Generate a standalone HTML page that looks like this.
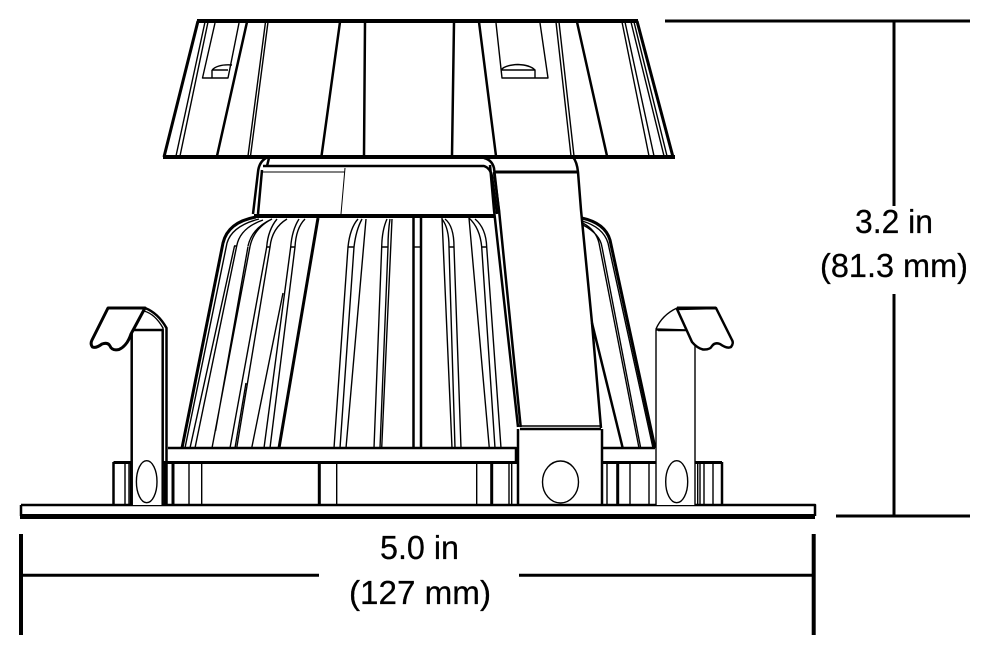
<!DOCTYPE html>
<html><head><meta charset="utf-8"><style>
html,body{margin:0;padding:0;background:#fff;width:990px;height:654px;overflow:hidden}
svg{display:block}
.k{stroke:#000;fill:none;stroke-linejoin:round;stroke-linecap:butt}
.t0{stroke-width:1}.t1{stroke-width:1.4}.t2{stroke-width:2.5}.t3{stroke-width:3}.t4{stroke-width:4}
.w{fill:#fff}
text{font-family:"Liberation Sans",sans-serif;font-size:33px;fill:#000;stroke:#000;stroke-width:.25}
</style></head><body>
<svg width="990" height="654" viewBox="0 0 990 654" xmlns="http://www.w3.org/2000/svg">
<!-- shade -->
<path class="k t3" d="M198 21L164 157"/>
<path class="k t3" d="M637 21L673 157"/>
<path class="k t4" d="M197 21H638M163 157H675"/>
<path class="k t1" d="M205 22L176 156M208 22L180 156M265.500 22L248 156M268 22L250.500 156M556 22L571 156M559 22L574 156M622 22L649 156M625 22L654 156M631 22L664 156M634 22L667 156"/>
<path class="k t2" d="M247 22L217 156M340 22L321.500 156M365 22L364 156M454 22L452 156M479 22L496 156M577 22L607 156"/>
<path class="k t1" d="M215 23L202.500 78H228L239 23M496 23L502 78H548L540 23"/>
<path class="k t1" d="M212 70H228M212 70V78M212 70Q218 64 232 65M501 70H535V78M501 70Q505 65 518 64.500Q530 65 535 70"/>
<!-- collar -->
<path class="k t2" d="M266 158Q259 162 258 172L253 214M269 158L267 166M262 170L258 214"/>
<path class="k t2" d="M263 166H484Q490 168 492 176L497 214"/>
<path class="k t0" d="M263 172H345M345 168L341 214"/>
<path class="k t2" d="M484 158Q492 160 494 168L499 212"/>
<path class="k t4" d="M254 216H494"/>
<!-- strap -->
<path class="k t2" d="M573 157Q577 162 578 172L581 210L592 323L601 428"/>
<path class="k t3" d="M495 172H577"/>
<path class="k t2" d="M490 165L494 210L518 427M494 172L499 210L520.700 427"/>
<path class="k t1" d="M518 426H601"/>
<path class="k t2" d="M520 429H601"/>
<!-- dome left -->
<path class="k t3" d="M256 217Q228 222 223 243L182 448"/>
<path class="k t1" d="M259 219Q232 226 227 243L185 448"/>
<path class="k t1" d="M263 220Q240 228 236.700 246L195 448M234.500 246L190 448M234 246H237"/>
<path class="k t1" d="M272 219Q254 228 250 246.500L212 448M248 246.500L215.500 431M272 219Q252 228 248 246"/>
<path class="k t1" d="M287 219Q272 228 270 247L236.700 448M266.700 247L230 448M266.700 247H270M277 219Q268 230 266.700 247"/>
<path class="k t1" d="M305 219Q296 228 295 247L270 448M290.700 247L264 448M290.700 247H295M299 219Q292 230 290.700 247M283 293L251.700 448"/>
<path class="k t3" d="M318 218L279 448"/>
<path class="k t1" d="M246 383L235 448"/>
<!-- dome centre -->
<path class="k t1" d="M366 219L346 448M358 219Q350 228 348 247L334 448M354 247L340 448M348 247H354M362 219Q356 230 354 247"/>
<path class="k t1" d="M392 219L381.700 448M387 219Q382 230 381.700 247L374 448M388 247L380 448M381.700 247H388M390 219Q388 232 388 247"/>
<path class="k t2" d="M413.500 218V448M421 218V448"/>
<path class="k t1" d="M414 247H421"/>
<path class="k t1" d="M442 218L452 448M445 219Q454 226 454 247L461 448M449 247L455 448M449 247H454M442 219Q449 228 449 247"/>
<path class="k t1" d="M469 218L489.300 448M475 219Q486 228 486.700 247L501 448M481.700 247L495 448M481.700 247H486.700M469 218Q480 228 481.700 247"/>
<!-- dome right -->
<path class="k t3" d="M581.700 218Q605 223 610 240L655 448"/>
<path class="k t1" d="M582 221Q603 227 608 243L653 448"/>
<path class="k t1" d="M582.700 223Q596 230 599 243L639 448M583 225Q600 234 602 247L640.700 448"/>
<path class="k t2" d="M592 323L622.700 448"/>
<!-- band -->
<path class="k t2" d="M168 448H516V462M602 448H655"/>
<path class="k t3" d="M113.500 462.500H519M602 462.500H660M695 462.500H722"/>
<!-- base verticals -->
<path class="k t2" d="M113.500 462V505M722 462V505"/>
<path class="k t1" d="M125 463V505M129 463V505M189 463V505M201.700 463V505M336.700 463V505M476.700 463V505M509 463V505M511.700 463V505M607 463V505M630 463V505M649 463V505M697.700 463V505M700 463V505M704 463V505M713 463V505"/>
<path class="k t3" d="M173 463V505M319.300 463V505M491.700 463V505M617.700 463V505M658.500 463V505"/>
<path class="k t2" d="M131 463V505M165 463V505M518 429V505M602 429V505"/>
<!-- plate -->
<path class="k t2" d="M21 505H815V516M21 505V516"/>
<rect x="20" y="514" width="795" height="5" fill="#000"/>
<!-- bracket box circle -->
<ellipse class="k t1" cx="560.500" cy="482" rx="18" ry="21"/>
<!-- left clip -->
<path class="k w t2" d="M131.700 505V330H162.700V505"/>
<path class="k t2" d="M166.500 505V328Q158 313 145 308"/>
<path class="k t1" d="M163 330V328Q155 314 144 311"/>
<path class="k t1" d="M131.700 330H163"/>
<path class="k w t3" d="M108 308H145L131 334Q127 346 119 349.500Q112 351 110 346Q108 342 102 344Q96 348.500 92.500 347Q90 344 92 340Z"/>
<ellipse class="k t1" cx="146.700" cy="481.700" rx="10.300" ry="21"/>
<!-- right clip -->
<path class="k w t1" d="M656 505V330H695V505"/>
<path class="k t2" d="M658 330H687"/>
<path class="k w t1" d="M656 329Q662 315 677 308L687 330Z"/>
<path class="k w t2" d="M677 309L692 342Q697 348 703 349.500Q710 350 712 346Q715 342 720 344Q727 349 731 347Q734 343 732 340L716 308Z"/>
<path class="k t3" d="M677 308H716"/>
<ellipse class="k t1" cx="676.700" cy="481.700" rx="11" ry="21"/>
<!-- dimensions -->
<path class="k t3" d="M665 21H970M836 516H970"/>
<path class="k t3" d="M894 21V206M894 294V516"/>
<path class="k t4" d="M21 534V635M813.700 534V635"/>
<path class="k t3" d="M21 575.300H319M519 575.300H813"/>
<text x="855" y="233" textLength="78" lengthAdjust="spacingAndGlyphs">3.2 in</text>
<text x="820" y="277" textLength="148" lengthAdjust="spacingAndGlyphs">(81.3 mm)</text>
<text x="380" y="559" textLength="79" lengthAdjust="spacingAndGlyphs">5.0 in</text>
<text x="349" y="604" textLength="142" lengthAdjust="spacingAndGlyphs">(127 mm)</text>
</svg>
</body></html>
